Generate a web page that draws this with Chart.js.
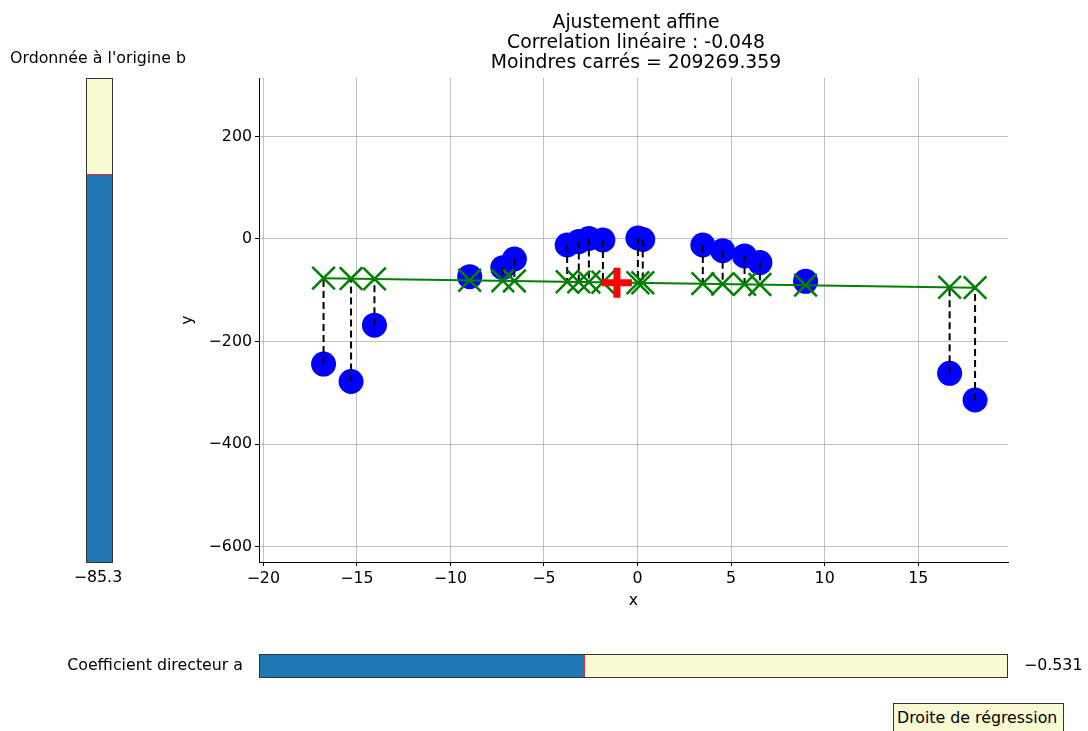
<!DOCTYPE html>
<html>
<head>
<meta charset="utf-8">
<script src="https://cdn.jsdelivr.net/npm/chart.js@4.4.1/dist/chart.umd.min.js"></script>
<style>
  body { margin: 0; background: #fff; font-family: 'DejaVu Sans', sans-serif; color: #000; }
  #fig { position: relative; width: 1088px; height: 731px; overflow: hidden; }
  #plot { position: absolute; left: 0; top: 0; }
  .txt { position: absolute; font-size: 15.8px; line-height: 18px; white-space: nowrap; }
  #titre { position: absolute; left: 386px; width: 500px; top: 11.5px; text-align: center; font-size: 18.8px; line-height: 20px; }
  .slider { position: absolute; background: #fafad2; border: 1px solid #333; box-sizing: border-box; }
  .fill { position: absolute; background: #1f77b4; }
  #bouton { position: absolute; left: 893px; top: 703px; width: 171px; height: 34px; background: #fafad2; border: 1px solid #333; box-sizing: border-box; font-size: 15.8px; line-height: 18px; padding: 5px 0 0 3px; white-space: nowrap; }
</style>
</head>
<body>
<div id="fig">
  <canvas id="plot" width="1088" height="731"></canvas>
  <div id="titre">Ajustement affine<br>Correlation linéaire : -0.048<br>Moindres carrés = 209269.359</div>

  <div class="txt" style="left:-2px;width:200px;text-align:center;top:49px;">Ordonnée à l'origine b</div>
  <div class="slider" id="sliderB" style="left:86px;top:78px;width:27px;height:485px;"><div class="fill" id="fillB"></div></div>
  <div class="txt" id="valB" style="left:48px;width:100px;text-align:center;top:568px;"></div>

  <div class="txt" style="left:0;width:243px;text-align:right;top:656px;">Coefficient directeur a</div>
  <div class="slider" id="sliderA" style="left:259px;top:654px;width:749px;height:24px;"><div class="fill" id="fillA"></div></div>
  <div class="txt" id="valA" style="left:1024px;top:656px;"></div>

  <div id="bouton">Droite de régression</div>
</div>
<script>
// points mesurés
var xData = [-16.78, -15.31, -14.06, -8.97, -7.20, -6.58, -3.76, -3.14, -2.60, -1.85, 0.02, 0.28, 3.49, 4.55, 5.72, 6.54, 8.98, 16.68, 18.04];
var yData = [-244, -278, -168, -73.5, -56, -39, -11.7, -5, 1, -2, 2, -1, -11.7, -22.8, -33, -46, -82.6, -262, -314];

// paramètres de la droite
var pente = -0.531;
var origine = -85.3;
var moyenne = [-1.1, -85.5];

// graduations
var xTicks = [-20, -15, -10, -5, 0, 5, 10, 15];
var yTicks = [-600, -400, -200, 0, 200];

// bornes des curseurs
var rangeA = [-4, 4];
var rangeB = [-600, 40];

function moins(v) {
  return String(v).replace('-', '\u2212');
}

// curseurs
var fracA = (pente - rangeA[0]) / (rangeA[1] - rangeA[0]);
var fillA = document.getElementById('fillA');
fillA.style.left = '0px';
fillA.style.top = '0px';
fillA.style.height = '100%';
fillA.style.width = (fracA * 747) + 'px';
fillA.style.borderRight = '1px solid #e03030';
document.getElementById('valA').textContent = moins(pente.toFixed(3));

var fracB = (origine - rangeB[0]) / (rangeB[1] - rangeB[0]);
var fillB = document.getElementById('fillB');
fillB.style.left = '0px';
fillB.style.bottom = '0px';
fillB.style.width = '100%';
fillB.style.height = (fracB * 483) + 'px';
fillB.style.borderTop = '1px solid #e03030';
fillB.style.boxSizing = 'border-box';
document.getElementById('valB').textContent = moins(origine.toFixed(1));

// points ajustés sur la droite
var points = [];
var ajustes = [];
var residus = [];
for (var i = 0; i < xData.length; i++) {
  var yf = pente * xData[i] + origine;
  points.push({x: xData[i], y: yData[i]});
  ajustes.push({x: xData[i], y: yf});
  residus.push({
    type: 'scatter',
    data: [{x: xData[i], y: yData[i]}, {x: xData[i], y: yf}],
    showLine: true,
    borderColor: '#000',
    borderWidth: 2,
    borderDash: [7, 4],
    pointRadius: 0,
    order: 3
  });
}
var xmin = Math.min.apply(null, xData);
var xmax = Math.max.apply(null, xData);

var datasets = [
  {
    data: [moyenne].map(function(m){ return {x: m[0], y: m[1]}; }),
    pointStyle: 'cross',
    pointRadius: 15,
    borderColor: '#ff0000',
    borderWidth: 7,
    order: 0
  },
  {
    data: ajustes,
    pointStyle: 'crossRot',
    pointRadius: 16,
    borderColor: '#008000',
    borderWidth: 2.5,
    order: 1
  },
  {
    data: [{x: xmin, y: pente * xmin + origine}, {x: xmax, y: pente * xmax + origine}],
    showLine: true,
    borderColor: '#008000',
    borderWidth: 2,
    pointRadius: 0,
    order: 2
  },
  {
    data: points,
    pointStyle: 'circle',
    pointRadius: 12.5,
    backgroundColor: '#0000ff',
    borderColor: '#0000ff',
    borderWidth: 0,
    order: 4
  }
].concat(residus);

var police = {family: 'DejaVu Sans', size: 15.8};

var myChart = new Chart(document.getElementById('plot'), {
  type: 'scatter',
  data: { datasets: datasets },
  options: {
    responsive: false,
    animation: false,
    layout: { padding: { left: 174.5, right: 80, top: 78, bottom: 117 } },
    plugins: { legend: { display: false }, tooltip: { enabled: false } },
    scales: {
      x: {
        type: 'linear',
        min: -20.23,
        max: 19.8,
        grid: { color: '#b0b0b0', lineWidth: 0.8, tickLength: 4, tickColor: '#000', tickWidth: 1 },
        border: { display: true, color: '#000', width: 1 },
        ticks: { font: police, color: '#000', padding: 3, maxRotation: 0, callback: function(v){ return moins(v); } },
        afterBuildTicks: function(scale){ scale.ticks = xTicks.map(function(v){ return {value: v}; }); },
        afterFit: function(scale){ scale.height = 52; },
        title: { display: true, text: 'x', font: police, color: '#000' }
      },
      y: {
        type: 'linear',
        min: -630,
        max: 314,
        grid: { color: '#b0b0b0', lineWidth: 0.8, tickLength: 4, tickColor: '#000', tickWidth: 1 },
        border: { display: true, color: '#000', width: 1 },
        ticks: { font: police, color: '#000', padding: 3, callback: function(v){ return moins(v); } },
        afterBuildTicks: function(scale){ scale.ticks = yTicks.map(function(v){ return {value: v}; }); },
        afterFit: function(scale){ scale.width = 84.5; },
        title: { display: true, text: 'y', font: police, color: '#000' }
      }
    }
  }
});
</script>
</body>
</html>
